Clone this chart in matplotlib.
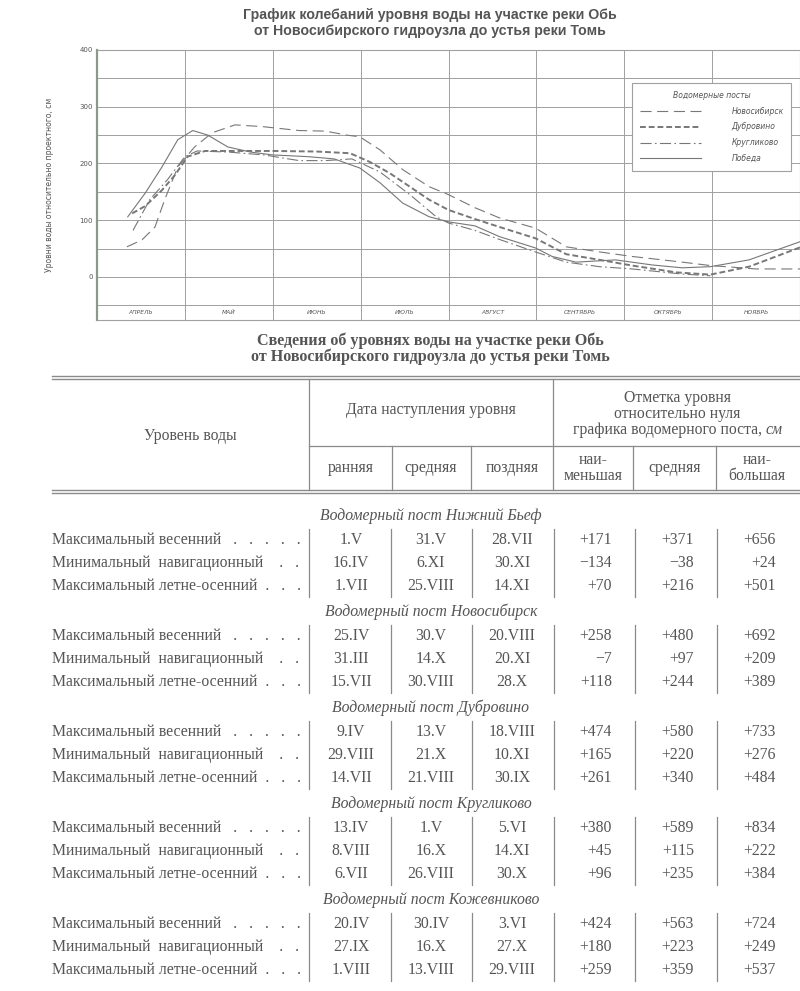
import numpy as np
import matplotlib.pyplot as plt

W, H = 800, 991

# --- данные графика (месяцы от 1 апреля, уровень в см) ---
months = ["АПРЕЛЬ", "МАЙ", "ИЮНЬ", "ИЮЛЬ", "АВГУСТ", "СЕНТЯБРЬ", "ОКТЯБРЬ", "НОЯБРЬ"]

novosib_x = [0.34, 0.51, 0.66, 0.77, 0.92, 1.11, 1.31, 1.57, 1.88, 2.3, 2.6, 2.84, 2.99, 3.22,
             3.48, 3.78, 4.0, 4.3, 4.58, 4.99, 5.34, 5.72, 6.09, 6.66, 6.98, 7.5, 8.0]
novosib_y = [53, 65, 88, 136, 194, 229, 254, 268, 265, 258, 257, 250, 247, 224,
             189, 159, 145, 122, 104, 86, 53, 44, 36, 26, 20, 14, 14]

dubrov_x = [0.4, 0.55, 0.74, 0.89, 1.03, 1.23, 1.5, 2.0, 2.5, 2.88, 3.1, 3.33, 3.56, 3.78,
            4.0, 4.3, 4.58, 4.99, 5.34, 5.72, 6.09, 6.59, 6.98, 7.42, 8.0]
dubrov_y = [112, 125, 153, 180, 212, 222, 222, 222, 221, 218, 203, 183, 159, 136,
            118, 102, 88, 68, 40, 30, 20, 8, 4, 18, 52]

krugl_x = [0.41, 0.6, 0.8, 1.0, 1.14, 1.5, 1.9, 2.3, 2.6, 2.9, 3.22, 3.56, 3.86, 4.0,
           4.3, 4.58, 4.99, 5.34, 5.72, 6.09, 6.66, 6.98]
krugl_y = [82, 136, 171, 212, 222, 220, 215, 205, 205, 208, 185, 145, 106, 95,
           82, 66, 44, 26, 18, 14, 5, 2]

pobeda_x = [0.35, 0.55, 0.74, 0.92, 1.09, 1.26, 1.49, 1.75, 2.0, 2.4, 2.7, 2.99, 3.22, 3.48,
            3.78, 4.0, 4.3, 4.58, 4.99, 5.18, 5.45, 5.9, 6.32, 6.66, 6.98, 7.42, 8.0]
pobeda_y = [106, 148, 194, 242, 258, 250, 229, 220, 215, 212, 208, 192, 166, 130,
            106, 97, 90, 71, 51, 36, 26, 30, 21, 16, 18, 30, 62]

# --- данные таблицы ---
stations = ["Нижний Бьеф", "Новосибирск", "Дубровино", "Кругликово", "Кожевниково"]
level_names = ["Максимальный весенний   .   .   .   .   .",
               "Минимальный  навигационный    .   .",
               "Максимальный летне-осенний  .   .   ."]
date_early = ["1.V", "16.IV", "1.VII", "25.IV", "31.III", "15.VII", "9.IV", "29.VIII", "14.VII",
              "13.IV", "8.VIII", "6.VII", "20.IV", "27.IX", "1.VIII"]
date_mid = ["31.V", "6.XI", "25.VIII", "30.V", "14.X", "30.VIII", "13.V", "21.X", "21.VIII",
            "1.V", "16.X", "26.VIII", "30.IV", "16.X", "13.VIII"]
date_late = ["28.VII", "30.XI", "14.XI", "20.VIII", "20.XI", "28.X", "18.VIII", "10.XI", "30.IX",
             "5.VI", "14.XI", "30.X", "3.VI", "27.X", "29.VIII"]
mark_min = [171, -134, 70, 258, -7, 118, 474, 165, 261, 380, 45, 96, 424, 180, 259]
mark_mid = [371, -38, 216, 480, 97, 244, 580, 220, 340, 589, 115, 235, 563, 223, 359]
mark_max = [656, 24, 501, 692, 209, 389, 733, 276, 484, 834, 222, 384, 724, 249, 537]

TXT = '#555555'
GRID = '#a0a0a0'
CURVE = '#777777'
SERIF = ['Liberation Serif', 'DejaVu Serif']
SANS = ['Liberation Sans', 'DejaVu Sans']


def fmt(v):
    return ("+%d" % v) if v >= 0 else ("\u2212%d" % -v)


fig = plt.figure(figsize=(W / 100, H / 100), dpi=100)
fig.patch.set_facecolor('white')

# ---------------- график ----------------
L, R, T, B = 97, 800, 50, 320
ax = fig.add_axes([L / W, 1 - B / H, (R - L) / W, (B - T) / H])
ax.set_xlim(0, 8)
ax.set_ylim(-76, 400)
for v in np.arange(-50, 400, 50):
    ax.axhline(v, color=GRID, lw=0.7, zorder=1)
for m in range(1, 8):
    ax.axvline(m, color=GRID, lw=0.7, zorder=1)
for s in ax.spines.values():
    s.set_color(GRID)
    s.set_linewidth(0.8)
ax.spines['left'].set_linewidth(1.6)
ax.spines['left'].set_color('#8a9a8a')

ax.plot(novosib_x, novosib_y, color=CURVE, lw=0.8, ls=(0, (10, 5)), label='Новосибирск', zorder=3)
ax.plot(dubrov_x, dubrov_y, color=CURVE, lw=1.4, ls=(0, (3, 1.5)), label='Дубровино', zorder=3)
ax.plot(krugl_x, krugl_y, color=CURVE, lw=0.8, ls=(0, (10, 3, 1.5, 3)), label='Кругликово', zorder=3)
ax.plot(pobeda_x, pobeda_y, color=CURVE, lw=0.8, ls='-', label='Победа', zorder=3)

ax.set_xticks([])
ax.set_yticks([0, 100, 200, 300, 400])
ax.tick_params(axis='y', length=0, pad=3, labelsize=5, labelcolor=TXT)
ax.set_ylabel('Уровни воды относительно проектного, см', fontsize=5.5, color=TXT, labelpad=18)
for i, name in enumerate(months):
    ax.text(i + 0.5, -63, name, ha='center', va='center', fontsize=4.3, style='italic', color=TXT)

leg = ax.legend(loc='upper left', bbox_to_anchor=((632 - L) / (R - L), (B - 83) / (B - T)),
                borderaxespad=0, frameon=True, fancybox=False, fontsize=5.5,
                handlelength=8, handletextpad=4, labelspacing=0.9, borderpad=1.0,
                title='Водомерные посты', title_fontsize=5.5)
leg.get_frame().set_edgecolor(GRID)
leg.get_frame().set_linewidth(0.8)
leg.get_frame().set_alpha(1)
for t in leg.get_texts():
    t.set_style('italic')
    t.set_color(TXT)
leg.get_title().set_style('italic')
leg.get_title().set_color(TXT)

fig.text(430 / W, 1 - 15 / H, 'График колебаний уровня воды на участке реки Обь', ha='center', va='center',
         fontsize=10.2, fontweight='bold', color=TXT, family=SANS)
fig.text(430 / W, 1 - 31 / H, 'от Новосибирского гидроузла до устья реки Томь', ha='center', va='center',
         fontsize=10.2, fontweight='bold', color=TXT, family=SANS)

# ---------------- таблица ----------------
tx = fig.add_axes([0, 0, 1, 1])
tx.set_xlim(0, W)
tx.set_ylim(H, 0)
tx.axis('off')

tx.text(430, 341, 'Сведения об уровнях воды на участке реки Обь', ha='center', va='center',
        fontsize=11.6, fontweight='bold', color=TXT, family=SERIF)
tx.text(430, 357, 'от Новосибирского гидроузла до устья реки Томь', ha='center', va='center',
        fontsize=11.6, fontweight='bold', color=TXT, family=SERIF)

LC = '#8a8a8a'
for yy in (376, 379):
    tx.plot([52, 800], [yy, yy], color=LC, lw=1.0)
for yy in (490, 493):
    tx.plot([52, 800], [yy, yy], color=LC, lw=1.0)
tx.plot([309, 309], [379, 490], color=LC, lw=0.9)
tx.plot([553, 553], [379, 490], color=LC, lw=0.9)
tx.plot([309, 800], [446, 446], color=LC, lw=0.9)
for xx in (392, 471, 633, 716):
    tx.plot([xx, xx], [446, 490], color=LC, lw=0.9)

fs = 11.3
tx.text(190, 436, 'Уровень воды', ha='center', va='center', fontsize=fs, color=TXT, family=SERIF)
tx.text(431, 410, 'Дата наступления уровня', ha='center', va='center', fontsize=fs, color=TXT, family=SERIF)
tx.text(677, 398, 'Отметка уровня', ha='center', va='center', fontsize=fs, color=TXT, family=SERIF)
tx.text(677, 414, 'относительно нуля', ha='center', va='center', fontsize=fs, color=TXT, family=SERIF)
tx.text(766, 430, 'см', ha='left', va='center', fontsize=fs, color=TXT, family=SERIF, style='italic')
tx.text(762, 430, 'графика водомерного поста,', ha='right', va='center', fontsize=fs,
        color=TXT, family=SERIF)
sub = [(351, 'ранняя'), (431, 'средняя'), (512, 'поздняя'), (593, 'наи-\nменьшая'),
       (675, 'средняя'), (757, 'наи-\nбольшая')]
for xx, s in sub:
    tx.text(xx, 468, s, ha='center', va='center', fontsize=fs, color=TXT, family=SERIF, linespacing=1.0)

sep_x = [309, 391, 472, 554, 635, 717]
for g, st in enumerate(stations):
    y0 = 516 + 96 * g
    tx.text(431, y0, 'Водомерный пост ' + st, ha='center', va='center', fontsize=fs,
            style='italic', color=TXT, family=SERIF)
    for xx in sep_x:
        tx.plot([xx, xx], [y0 + 13, y0 + 81], color=LC, lw=0.9)
    for r in range(3):
        k = g * 3 + r
        yy = y0 + 24 + 23 * r
        tx.text(52, yy, level_names[r], ha='left', va='center', fontsize=fs, color=TXT, family=SERIF)
        tx.text(351, yy, date_early[k], ha='center', va='center', fontsize=fs, color=TXT, family=SERIF)
        tx.text(431, yy, date_mid[k], ha='center', va='center', fontsize=fs, color=TXT, family=SERIF)
        tx.text(512, yy, date_late[k], ha='center', va='center', fontsize=fs, color=TXT, family=SERIF)
        tx.text(612, yy, fmt(mark_min[k]), ha='right', va='center', fontsize=fs, color=TXT, family=SERIF)
        tx.text(694, yy, fmt(mark_mid[k]), ha='right', va='center', fontsize=fs, color=TXT, family=SERIF)
        tx.text(776, yy, fmt(mark_max[k]), ha='right', va='center', fontsize=fs, color=TXT, family=SERIF)

fig.savefig('out.png', dpi=100, facecolor='white')
